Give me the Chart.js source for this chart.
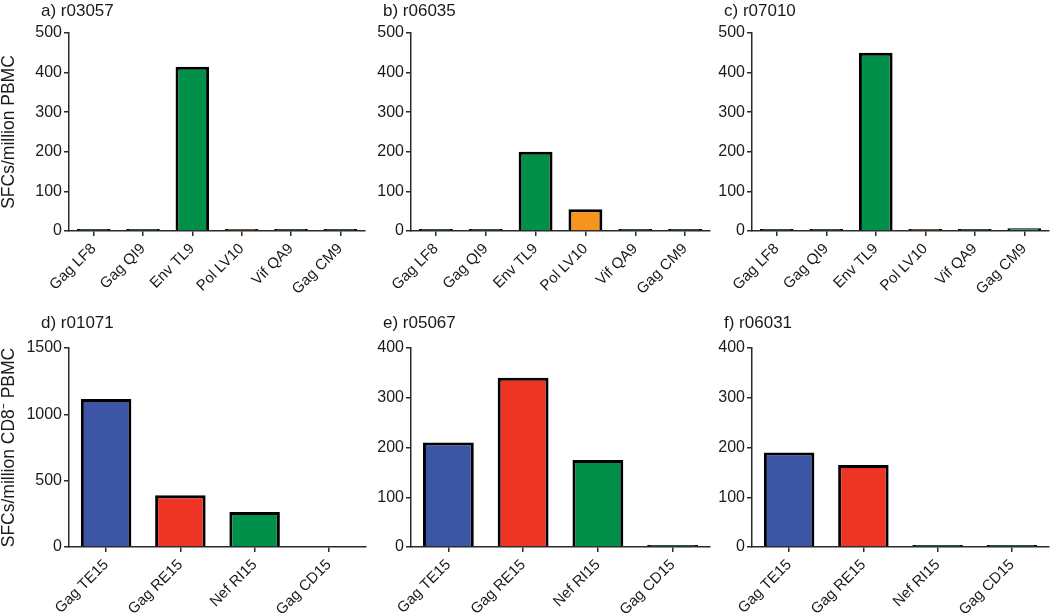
<!DOCTYPE html>
<html>
<head>
<meta charset="utf-8">
<script src="https://cdn.jsdelivr.net/npm/chart.js@4.4.0/dist/chart.umd.min.js"></script>
<style>
  body { margin: 0; background: #fff; width: 1050px; height: 614px; position: relative; overflow: hidden; }
  canvas { position: absolute; }
</style>
</head>
<body>
<canvas id="pa" width="370" height="307" style="left:0;top:0"></canvas>
<canvas id="pb" width="345" height="307" style="left:372px;top:0"></canvas>
<canvas id="pc" width="334" height="307" style="left:716px;top:0"></canvas>
<canvas id="pd" width="370" height="314" style="left:0;top:300px"></canvas>
<canvas id="pe" width="345" height="314" style="left:372px;top:300px"></canvas>
<canvas id="pf" width="334" height="314" style="left:716px;top:300px"></canvas>
<script>
// epitopes
var topLabels = ['Gag LF8', 'Gag QI9', 'Env TL9', 'Pol LV10', 'Vif QA9', 'Gag CM9'];
var bottomLabels = ['Gag TE15', 'Gag RE15', 'Nef RI15', 'Gag CD15'];

// SFCs per million
var r03057 = [5, 5, 415, 5, 5, 5];
var r06035 = [5, 5, 200, 55, 5, 5];
var r07010 = [5, 5, 450, 5, 5, 7];
var r01071 = [1115, 390, 264, 0];
var r05067 = [210, 340, 175, 4];
var r06031 = [190, 165, 4, 4];

var green = '#00904a';
var orange = '#f7941d';
var blue = '#3d55a5';
var red = '#ee3524';
var topColors = [green, green, green, orange, green, green];
var bottomColors = [blue, red, green, green];

var font = '"Liberation Sans", Arial, sans-serif';
var axisColor = '#2a2a2a';

function makePanel(id, title, labels, values, colors, yMax, yStep, yTitle, yWidth, padRight, padTop, xHeight, titleY) {
    var ctx = document.getElementById(id).getContext('2d');
    return new Chart(ctx, {
        type: 'bar',
        data: {
            labels: labels,
            datasets: [{
                data: values,
                backgroundColor: colors,
                borderColor: '#000',
                borderWidth: 3,
                borderSkipped: 'start',
                categoryPercentage: 1,
                barPercentage: 0.68
            }]
        },
        options: {
            responsive: false,
            animation: false,
            devicePixelRatio: 1,
            layout: { padding: { top: padTop, right: padRight, left: 0, bottom: 0 } },
            plugins: {
                legend: { display: false },
                tooltip: { enabled: false }
            },
            scales: {
                x: {
                    grid: { drawOnChartArea: false, drawTicks: true, tickLength: 5, offset: false, color: axisColor, lineWidth: 1.5 },
                    border: { display: true, color: axisColor, width: 1.5 },
                    ticks: { autoSkip: false, maxRotation: 45, minRotation: 45, padding: 4, color: '#1a1a1a', font: { family: font, size: 15 } },
                    afterFit: function (scale) { scale.height = xHeight; }
                },
                y: {
                    min: 0,
                    max: yMax,
                    grid: { drawOnChartArea: false, drawTicks: true, tickLength: 5, color: axisColor, lineWidth: 1.5 },
                    border: { display: true, color: axisColor, width: 1.5 },
                    ticks: {
                        stepSize: yStep,
                        padding: 2,
                        color: '#1a1a1a',
                        font: { family: font, size: 16 },
                        callback: function (v) { return String(v); }
                    },
                    title: {
                        display: yTitle !== '',
                        text: yTitle,
                        color: '#1a1a1a',
                        padding: 0,
                        font: { family: font, size: 17.5, lineHeight: 1 }
                    },
                    afterFit: function (scale) { scale.width = yWidth; }
                }
            }
        },
        plugins: [{
            id: 'panelTitle',
            afterDraw: function (chart) {
                var c = chart.ctx;
                c.save();
                c.font = '17px ' + font;
                c.fillStyle = '#1a1a1a';
                c.textBaseline = 'middle';
                c.textAlign = 'left';
                c.fillText(title, chart.chartArea.left - 28, titleY);
                c.restore();
            }
        }]
    });
}

makePanel('pa', 'a) r03057', topLabels, r03057, topColors, 500, 100, 'SFCs/million PBMC', 69, 5, 33, 76, 11);
makePanel('pb', 'b) r06035', topLabels, r06035, topColors, 500, 100, '', 39, 7, 33, 76, 11);
makePanel('pc', 'c) r07010', topLabels, r07010, topColors, 500, 100, '', 36, 1, 33, 76, 11);
makePanel('pd', 'd) r01071', bottomLabels, r01071, bottomColors, 1500, 500, 'SFCs/million CD8\u207B PBMC', 69, 4, 48, 67, 23);
makePanel('pe', 'e) r05067', bottomLabels, r05067, bottomColors, 400, 100, '', 39, 7, 48, 67, 23);
makePanel('pf', 'f) r06031', bottomLabels, r06031, bottomColors, 400, 100, '', 36, 1, 48, 67, 23);
</script>
</body>
</html>
